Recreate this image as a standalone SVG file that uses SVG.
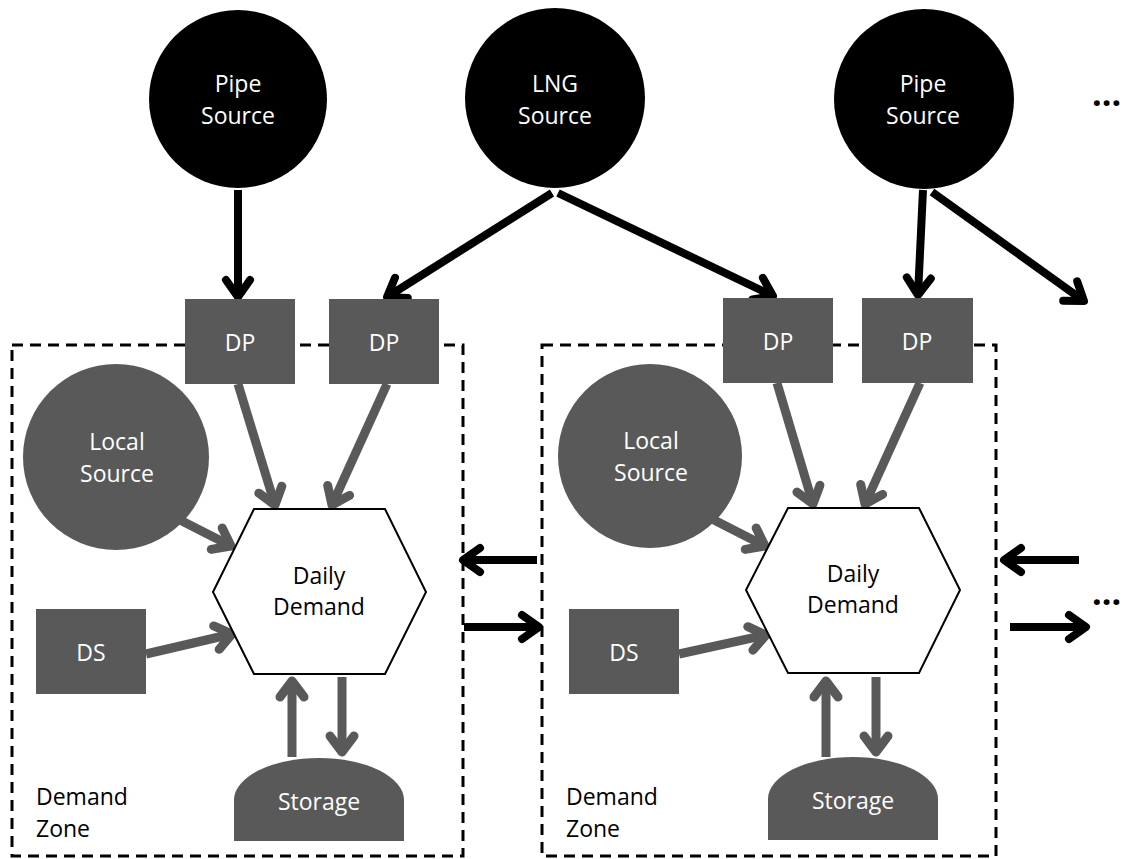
<svg xmlns="http://www.w3.org/2000/svg" width="1125" height="859" viewBox="0 0 1125 859">
<style>
text{font-family:"Open Sans","Liberation Sans",sans-serif;font-size:23px;text-anchor:middle}
.w{fill:#ffffff}
.k{fill:#000000}
.src{fill:#000000}
.g{fill:#595959}
.zone{fill:none;stroke:#000;stroke-width:3;stroke-dasharray:11 7}
.hex{fill:#ffffff;stroke:#000;stroke-width:2}
.ab{stroke:#000;stroke-width:8;fill:none;marker-end:url(#mb)}
.ag{stroke:#595959;stroke-width:9;fill:none;marker-end:url(#mg)}
.dots{font-size:34px;font-weight:bold;text-anchor:start}
</style>
<defs>
<marker id="mb" markerUnits="userSpaceOnUse" orient="auto" overflow="visible" refX="0" refY="0" markerWidth="1" markerHeight="1">
<path d="M-17,-12 L0,0 L-17,12" fill="none" stroke="#000" stroke-width="8" stroke-linecap="round" stroke-linejoin="round"/>
</marker>
<marker id="mg" markerUnits="userSpaceOnUse" orient="auto" overflow="visible" refX="0" refY="0" markerWidth="1" markerHeight="1">
<path d="M-16,-12 L0,0 L-16,12" fill="none" stroke="#595959" stroke-width="9" stroke-linecap="round" stroke-linejoin="round"/>
</marker>
</defs>
<rect width="1125" height="859" fill="#ffffff"/>
<g id="zone-left"><rect class="zone" x="12" y="345" width="451" height="511"/><text class="k" x="36" y="805" style="text-anchor:start">Demand</text><text class="k" x="36" y="837" style="text-anchor:start">Zone</text></g>
<g id="zone-right"><rect class="zone" x="542" y="345" width="454" height="511"/><text class="k" x="566" y="805" style="text-anchor:start">Demand</text><text class="k" x="566" y="837" style="text-anchor:start">Zone</text></g>
<g id="connectors">
<line class="ab" x1="238" y1="190" x2="238" y2="297"/>
<line class="ab" x1="552" y1="193" x2="387" y2="297"/>
<line class="ab" x1="558" y1="193" x2="773" y2="296"/>
<line class="ab" x1="923" y1="190" x2="918" y2="295"/>
<line class="ab" x1="932" y1="192" x2="1084" y2="301"/>
<line class="ab" x1="537" y1="560" x2="463" y2="560"/>
<line class="ab" x1="464" y1="627" x2="539" y2="627"/>
<line class="ab" x1="1079" y1="560" x2="1004" y2="560"/>
<line class="ab" x1="1010" y1="627" x2="1086" y2="627"/>
<line class="ag" x1="238" y1="384" x2="275" y2="505"/>
<line class="ag" x1="387" y1="384" x2="332" y2="505"/>
<line class="ag" x1="180" y1="520" x2="231" y2="546"/>
<line class="ag" x1="146" y1="654" x2="232" y2="634"/>
<line class="ag" x1="292" y1="757" x2="292" y2="681"/>
<line class="ag" x1="342" y1="677" x2="342" y2="752"/>
<line class="ag" x1="777" y1="383" x2="813" y2="504"/>
<line class="ag" x1="920" y1="383" x2="865" y2="504"/>
<line class="ag" x1="714" y1="520" x2="765" y2="546"/>
<line class="ag" x1="679" y1="654" x2="766" y2="635"/>
<line class="ag" x1="826" y1="757" x2="826" y2="681"/>
<line class="ag" x1="876" y1="677" x2="876" y2="752"/>
</g>
<g id="pipe-source-1"><circle class="src" cx="238" cy="99" r="89"/><text class="w" x="238" y="92">Pipe</text><text class="w" x="238" y="124">Source</text></g>
<g id="lng-source"><circle class="src" cx="555" cy="98" r="90"/><text class="w" x="555" y="92">LNG</text><text class="w" x="555" y="124">Source</text></g>
<g id="pipe-source-2"><circle class="src" cx="924" cy="99" r="90"/><text class="w" x="923" y="92">Pipe</text><text class="w" x="923" y="124">Source</text></g>
<text class="k dots" x="1092" y="106">...</text>
<text class="k dots" x="1092" y="605">...</text>
<g id="dp-1"><rect class="g" x="185" y="299" width="110" height="85"/><text class="w" x="240" y="351">DP</text></g>
<g id="dp-2"><rect class="g" x="329" y="299" width="110" height="85"/><text class="w" x="384" y="351">DP</text></g>
<g id="dp-3"><rect class="g" x="723" y="298" width="110" height="85"/><text class="w" x="778" y="350">DP</text></g>
<g id="dp-4"><rect class="g" x="862" y="298" width="111" height="85"/><text class="w" x="917" y="350">DP</text></g>
<g id="local-source-1"><circle class="g" cx="116" cy="457" r="93"/><text class="w" x="117" y="450">Local</text><text class="w" x="117" y="482">Source</text></g>
<g id="local-source-2"><circle class="g" cx="650" cy="456" r="92"/><text class="w" x="651" y="449">Local</text><text class="w" x="651" y="481">Source</text></g>
<g id="daily-demand-1"><polygon class="hex" points="254,509 385,509 426,592 385,674 254,674 213,592"/><text class="k" x="319" y="584">Daily</text><text class="k" x="319" y="615">Demand</text></g>
<g id="daily-demand-2"><polygon class="hex" points="788,508 919,508 960,590 919,673 788,673 746,590"/><text class="k" x="853" y="582">Daily</text><text class="k" x="853" y="613">Demand</text></g>
<g id="ds-1"><rect class="g" x="36" y="609" width="110" height="85"/><text class="w" x="91" y="661">DS</text></g>
<g id="ds-2"><rect class="g" x="569" y="609" width="110" height="85"/><text class="w" x="624" y="661">DS</text></g>
<g id="storage-1"><path class="g" d="M234,841 V800 A85,42 0 0 1 404,800 V841 Z"/><text class="w" x="319" y="810">Storage</text></g>
<g id="storage-2"><path class="g" d="M768,840 V799 A85,42 0 0 1 938,799 V840 Z"/><text class="w" x="853" y="809">Storage</text></g>
</svg>
